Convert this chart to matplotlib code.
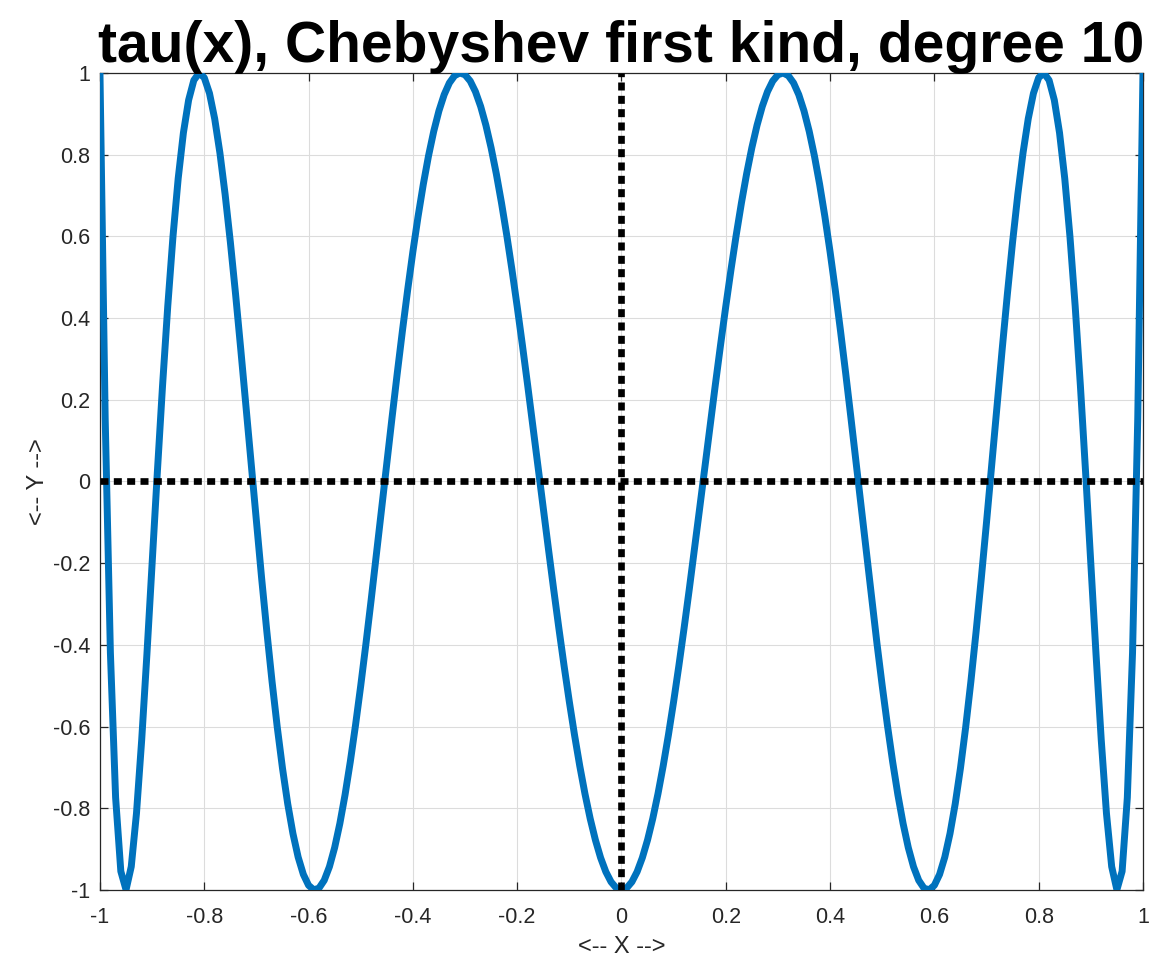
import numpy as np
import matplotlib.pyplot as plt
from numpy.polynomial import chebyshev as C

# Chebyshev series coefficients: only the degree-10 term is set
coef = [0, 0, 0, 0, 0, 0, 0, 0, 0, 0, 1]
x = np.linspace(-1, 1, 201)
tau = C.chebval(x, coef)

xticks = [-1, -0.8, -0.6, -0.4, -0.2, 0, 0.2, 0.4, 0.6, 0.8, 1]
yticks = [-1, -0.8, -0.6, -0.4, -0.2, 0, 0.2, 0.4, 0.6, 0.8, 1]
xlabels = ['-1', '-0.8', '-0.6', '-0.4', '-0.2', '0', '0.2', '0.4', '0.6', '0.8', '1']
ylabels = ['-1', '-0.8', '-0.6', '-0.4', '-0.2', '0', '0.2', '0.4', '0.6', '0.8', '1']

plt.rcParams['font.family'] = ['Liberation Sans', 'DejaVu Sans']
gray = '#262626'

fig = plt.figure(figsize=(11.53, 9.6), dpi=100)
ax = fig.add_axes([0.0867, 0.0729, 0.9046, 0.8511])

ax.plot(x, tau, color='#0072BD', lw=5.0, zorder=3)
ax.plot([-1, 1], [0, 0], color='k', lw=4.8, ls=(0, (1.2, 0.8)), zorder=4)
ax.plot([0, 0], [-1, 1], color='k', lw=4.8, ls=(0, (1.2, 0.8)), zorder=4)

ax.set_xlim(-1, 1)
ax.set_ylim(-1, 1)
ax.set_xticks(xticks, xlabels)
ax.set_yticks(yticks, ylabels)
ax.grid(True, color='#dcdcdc', lw=0.8)
ax.set_axisbelow(True)
ax.tick_params(direction='in', length=6, width=0.9, colors=gray,
               labelsize=15.5, top=True, right=True)
ax.tick_params(axis='x', pad=12)
ax.tick_params(axis='y', pad=7)
for s in ax.spines.values():
    s.set_color(gray)
    s.set_linewidth(0.9)

ax.set_xlabel('<-- X -->', fontsize=17, color=gray, labelpad=6)
ax.set_ylabel('<-- Y -->', fontsize=17, color=gray, labelpad=3)
ax.set_title('tau(x), Chebyshev first kind, degree 10', fontsize=41,
             fontweight='bold', pad=8)

fig.savefig('out.png', dpi=100)
